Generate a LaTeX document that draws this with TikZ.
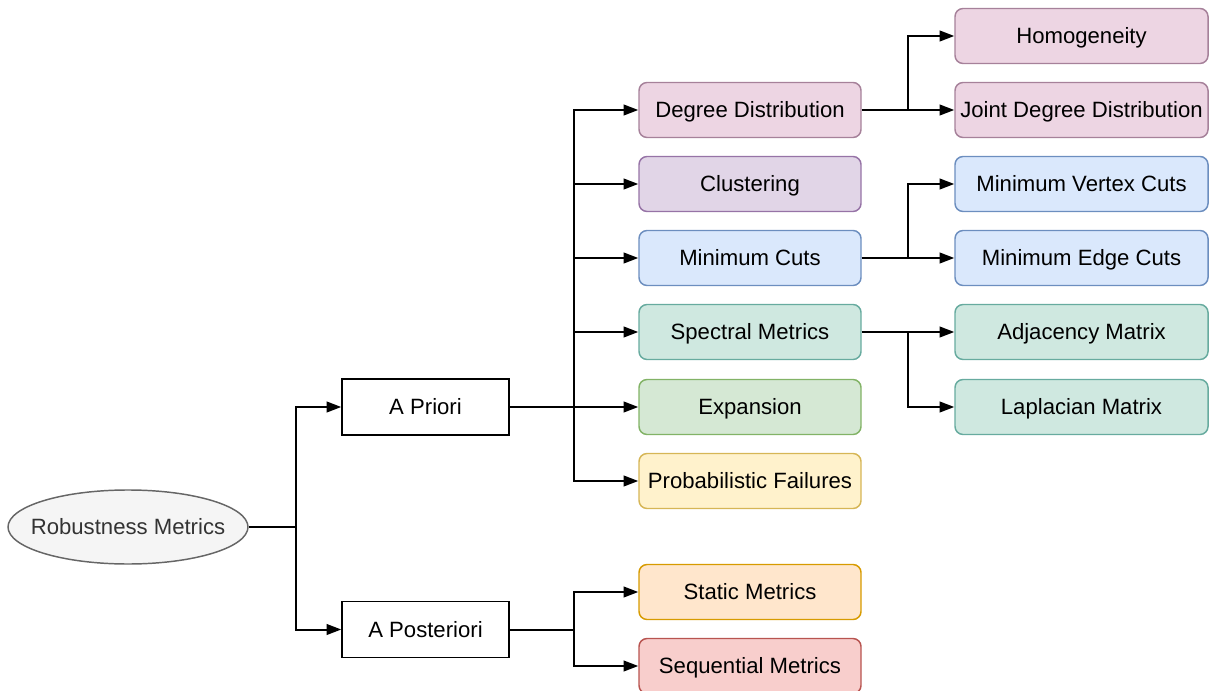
\documentclass[tikz,border=0pt]{standalone}
\usepackage{fontspec}
\setmainfont{Liberation Sans}
\usetikzlibrary{arrows.meta,shapes.geometric}

\definecolor{pinkfill}{HTML}{EDD5E3}
\definecolor{pinkline}{HTML}{A6819A}
\definecolor{purplefill}{HTML}{E1D5E7}
\definecolor{purpleline}{HTML}{9673A6}
\definecolor{bluefill}{HTML}{DAE8FC}
\definecolor{blueline}{HTML}{6C8EBF}
\definecolor{tealfill}{HTML}{CFE8E0}
\definecolor{tealline}{HTML}{67AB9F}
\definecolor{greenfill}{HTML}{D5E8D4}
\definecolor{greenline}{HTML}{82B366}
\definecolor{yellowfill}{HTML}{FFF2CC}
\definecolor{yellowline}{HTML}{D6B656}
\definecolor{orangefill}{HTML}{FFE6CC}
\definecolor{orangeline}{HTML}{D79B00}
\definecolor{redfill}{HTML}{F8CECC}
\definecolor{redline}{HTML}{B85450}
\definecolor{greyfill}{HTML}{F5F5F5}
\definecolor{greyline}{HTML}{666666}
\definecolor{greytext}{HTML}{333333}

\tikzset{every picture/.style={line width=0.75pt}}
\tikzset{
  label font/.style={font=\fontsize{16.6}{19}\selectfont, text height=11.9pt, text depth=0pt},
  metric/.style={rectangle, rounded corners=6pt, line width=1.1pt, label font, inner sep=0pt,
    minimum width=166.5pt, minimum height=41.25pt},
  submetric/.style={metric, minimum width=189.75pt},
  phase/.style={rectangle, draw=black, fill=white, line width=1.1pt, label font, inner sep=0pt,
    minimum width=125.25pt, minimum height=42pt},
  rootnode/.style={ellipse, draw=greyline, fill=greyfill, text=greytext, line width=1.1pt,
    label font, inner sep=0pt, minimum width=180pt, minimum height=55.5pt},
  pinkbox/.style={metric, fill=pinkfill, draw=pinkline},
  purplebox/.style={metric, fill=purplefill, draw=purpleline},
  bluebox/.style={metric, fill=bluefill, draw=blueline},
  tealbox/.style={metric, fill=tealfill, draw=tealline},
  greenbox/.style={metric, fill=greenfill, draw=greenline},
  yellowbox/.style={metric, fill=yellowfill, draw=yellowline},
  orangebox/.style={metric, fill=orangefill, draw=orangeline},
  redbox/.style={metric, fill=redfill, draw=redline},
  link/.style={line width=1.5pt},
  arr/.style={link, -{Triangle[length=11pt,width=8pt]}},
}

\begin{document}
\begin{tikzpicture}[x=0.75pt,y=0.75pt,yscale=-1,xscale=1]
	\useasboundingbox (0,0) rectangle (1209,691);
	
	%Root
	\node [rootnode] (root) at (128,527) {\makebox[0pt]{Robustness Metrics}};
	
	%Phases
	\node [phase] (apriori) at (425.5,407) {A Priori};
	\node [phase] (aposteriori) at (425.5,629.5) {A Posteriori};
	
	%A priori metrics
	\node [pinkbox] (degree) at (750,110) {Degree Distribution};
	\node [purplebox] (clustering) at (750,184) {Clustering};
	\node [bluebox] (mincuts) at (750,258) {Minimum Cuts};
	\node [tealbox] (spectral) at (750,332) {Spectral Metrics};
	\node [greenbox] (expansion) at (750,407) {Expansion};
	\node [yellowbox] (probfail) at (750,481) {Probabilistic Failures};
	
	%A posteriori metrics
	\node [orangebox] (static) at (750,592) {Static Metrics};
	\node [redbox] (sequential) at (750,666) {Sequential Metrics};
	
	%Sub metrics
	\node [pinkbox, submetric] (homog) at (1081.5,36) {Homogeneity};
	\node [pinkbox, submetric] (jointdeg) at (1081.5,110) {Joint Degree Distribution};
	\node [bluebox, submetric] (vertexcuts) at (1081.5,184) {Minimum Vertex Cuts};
	\node [bluebox, submetric] (edgecuts) at (1081.5,258) {Minimum Edge Cuts};
	\node [tealbox, submetric] (adjacency) at (1081.5,332) {Adjacency Matrix};
	\node [tealbox, submetric] (laplacian) at (1081.5,407) {Laplacian Matrix};
	
	%Bus points
	\coordinate (rootbus) at (296,527);
	\coordinate (prioribus) at (574,407);
	\coordinate (posterioribus) at (574,629.5);
	\coordinate (degreebus) at (908,110);
	\coordinate (cutsbus) at (908,258);
	\coordinate (spectralbus) at (908,332);
	
	%Connectors
	\draw [link] (root.east) -- (rootbus);
	\foreach \n in {apriori,aposteriori}
		\draw [arr] (rootbus) |- (\n.west);
	
	\draw [link] (apriori.east) -- (prioribus);
	\foreach \n in {degree,clustering,mincuts,spectral,expansion,probfail}
		\draw [arr] (prioribus) |- (\n.west);
	
	\draw [link] (aposteriori.east) -- (posterioribus);
	\foreach \n in {static,sequential}
		\draw [arr] (posterioribus) |- (\n.west);
	
	\draw [link] (degree.east) -- (degreebus);
	\foreach \n in {homog,jointdeg}
		\draw [arr] (degreebus) |- (\n.west);
	
	\draw [link] (mincuts.east) -- (cutsbus);
	\foreach \n in {vertexcuts,edgecuts}
		\draw [arr] (cutsbus) |- (\n.west);
	
	\draw [link] (spectral.east) -- (spectralbus);
	\foreach \n in {adjacency,laplacian}
		\draw [arr] (spectralbus) |- (\n.west);
	
\end{tikzpicture}
\end{document}
